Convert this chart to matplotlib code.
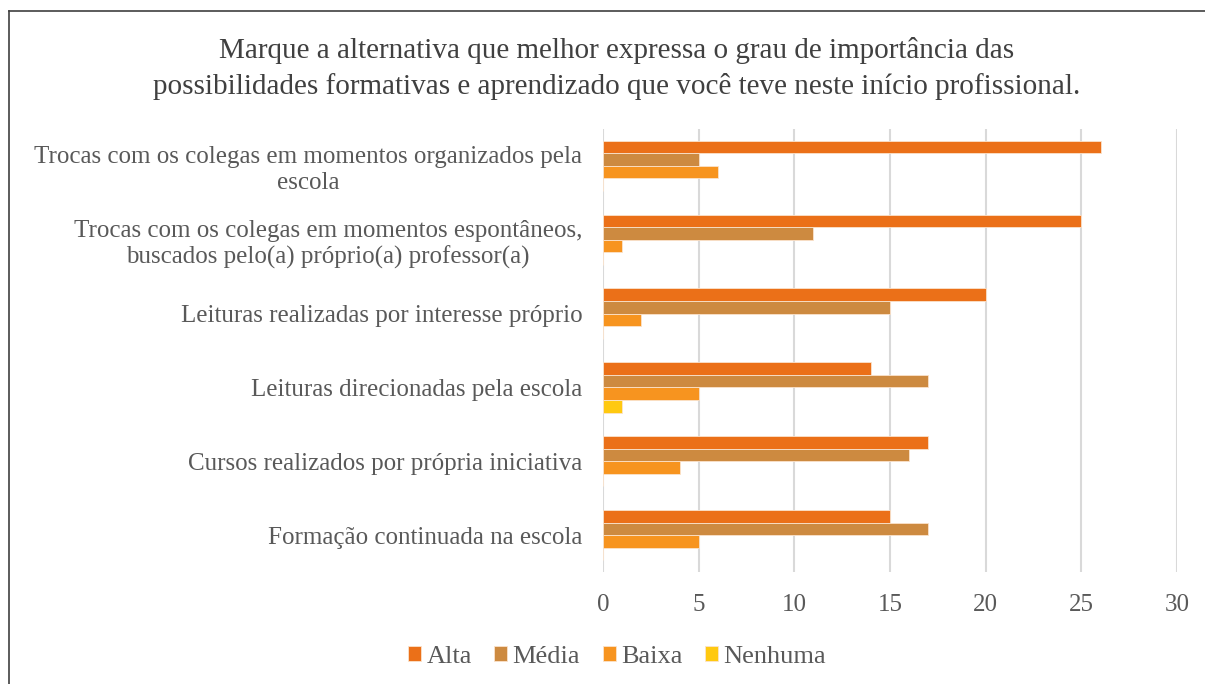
import matplotlib.pyplot as plt
import matplotlib.lines as mlines
import numpy as np

plt.rcParams['font.family'] = ['Liberation Serif', 'DejaVu Serif']

categories = [
    'Trocas com os colegas em momentos organizados pela\nescola',
    'Trocas com os colegas em momentos espontâneos,\nbuscados pelo(a) próprio(a) professor(a)',
    'Leituras realizadas por interesse próprio',
    'Leituras direcionadas pela escola',
    'Cursos realizados por própria iniciativa',
    'Formação continuada na escola',
]
series_names = ['Alta', 'Média', 'Baixa', 'Nenhuma']
alta = [26, 25, 20, 14, 17, 15]
media = [5, 11, 15, 17, 16, 17]
baixa = [6, 1, 2, 5, 4, 5]
nenhuma = [0, 0, 0, 1, 0, 0]
colors = ['#EB7018', '#CD8A40', '#F7941F', '#FFC910']

title = ('Marque a alternativa que melhor expressa o grau de importância das\n'
         'possibilidades formativas e aprendizado que você teve neste início profissional.')

fig = plt.figure(figsize=(12.05, 6.84), dpi=100)
ax = fig.add_axes([0.5004, 0.1637, 0.4764, 0.6477])

y = np.arange(len(categories))
h = 0.17
for i, (vals, name, c) in enumerate(zip([alta, media, baixa, nenhuma], series_names, colors)):
    ax.barh(y + (i - 1.5) * h, vals, height=h, color=c, label=name,
            edgecolor='#FBE3CC', linewidth=0.6, zorder=3)

ax.set_ylim(len(categories) - 0.5, -0.5)
ax.set_xlim(0, 30)
ax.set_xticks(range(0, 31, 5))
ax.set_yticks(y)
ax.set_yticklabels(categories, fontsize=18, color='#595959', ha='right',
                   multialignment='center', linespacing=1.2)
ax.tick_params(axis='y', length=0, pad=15)
ax.tick_params(axis='x', length=0, labelsize=18, labelcolor='#595959', pad=16)
ax.grid(axis='x', color='#D9D9D9', linewidth=1.5, zorder=0)
for s in ax.spines.values():
    s.set_visible(False)

fig.text(0.512, 0.9, title, ha='center', va='center', fontsize=21,
         color='#404040', linespacing=1.4)

leg = fig.legend(loc='center', bbox_to_anchor=(0.512, 0.04), ncol=4, frameon=False,
                 fontsize=19, handlelength=0.5, handleheight=0.5, handletextpad=0.2,
                 columnspacing=0.85)
for t in leg.get_texts():
    t.set_color('#595959')

# outer frame (left and top edges visible)
fig.add_artist(mlines.Line2D([0.0075, 0.0075], [0.0, 0.984], transform=fig.transFigure,
                             color='#404040', linewidth=1.2))
fig.add_artist(mlines.Line2D([0.0075, 1.0], [0.984, 0.984], transform=fig.transFigure,
                             color='#404040', linewidth=1.2))

fig.savefig('out.png', dpi=100, facecolor='white')
